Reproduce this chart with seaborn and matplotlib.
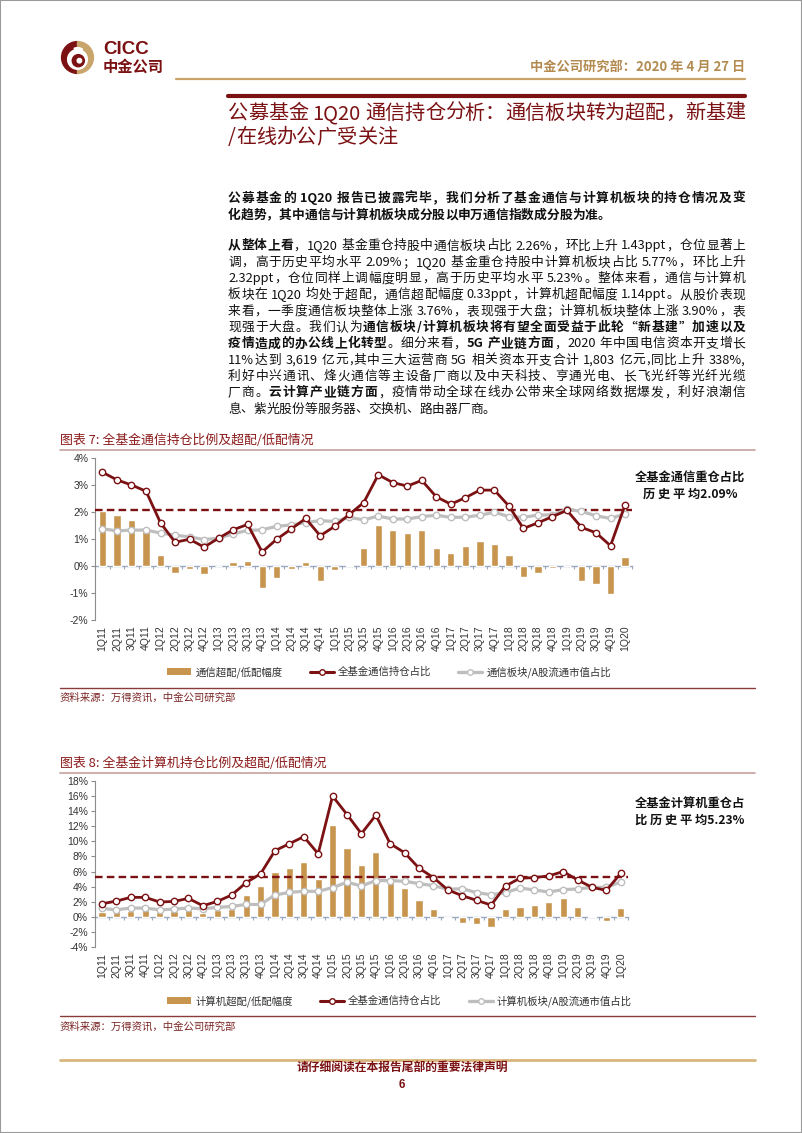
import re
import numpy as np
import pandas as pd
import matplotlib
matplotlib.use("Agg")
import matplotlib.pyplot as plt
import seaborn as sns
from matplotlib.font_manager import FontProperties
from matplotlib.patches import Wedge, Circle, Rectangle, Patch
from matplotlib.lines import Line2D

# ---------------- data ----------------
quarters = ["1Q11", "2Q11", "3Q11", "4Q11", "1Q12", "2Q12", "3Q12", "4Q12",
            "1Q13", "2Q13", "3Q13", "4Q13", "1Q14", "2Q14", "3Q14", "4Q14",
            "1Q15", "2Q15", "3Q15", "4Q15", "1Q16", "2Q16", "3Q16", "4Q16",
            "1Q17", "2Q17", "3Q17", "4Q17", "1Q18", "2Q18", "3Q18", "4Q18",
            "1Q19", "2Q19", "3Q19", "4Q19", "1Q20"]

telecom_gap = [2.04, 1.89, 1.69, 1.38, 0.40, -0.26, -0.10, -0.31,
               0.00, 0.16, 0.20, -0.81, -0.43, -0.10, 0.16, -0.55,
               -0.16, 0.02, 0.65, 1.52, 1.34, 1.22, 1.34, 0.67,
               0.47, 0.75, 0.92, 0.81, 0.40, -0.40, -0.26, -0.06,
               -0.01, -0.57, -0.65, -1.04, 0.34]
telecom_fund = [3.47, 3.19, 3.00, 2.77, 1.60, 0.88, 0.99, 0.70,
                1.03, 1.34, 1.54, 0.52, 0.99, 1.37, 1.76, 1.12,
                1.47, 1.91, 2.35, 3.38, 3.09, 2.96, 3.17, 2.56,
                2.29, 2.53, 2.81, 2.81, 2.22, 1.39, 1.60, 1.83,
                2.06, 1.43, 1.23, 0.75, 2.26]
telecom_mkt = [1.38, 1.30, 1.33, 1.33, 1.22, 1.14, 1.08, 0.98,
               1.03, 1.19, 1.32, 1.34, 1.47, 1.52, 1.61, 1.68,
               1.65, 1.80, 1.71, 1.85, 1.74, 1.74, 1.83, 1.88,
               1.80, 1.81, 1.88, 1.99, 1.83, 1.80, 1.89, 1.89,
               2.10, 2.02, 1.86, 1.76, 1.93]
telecom_avg = 2.09

computer_gap = [0.65, 0.75, 0.80, 0.85, 0.70, 0.80, 0.90, 0.45,
                0.90, 1.10, 2.90, 4.10, 5.90, 6.50, 7.20, 5.00,
                12.20, 9.07, 6.84, 8.58, 4.70, 3.78, 2.18, 1.10,
                -0.15, -0.80, -0.95, -1.40, 1.00, 1.35, 1.60, 1.95,
                2.45, 1.25, 0.07, -0.55, 1.15]
computer_fund = [1.73, 2.09, 2.58, 2.58, 1.96, 2.04, 2.44, 1.47,
                 2.04, 2.89, 4.53, 5.69, 8.76, 9.69, 10.62, 8.36,
                 16.00, 13.56, 11.02, 13.47, 9.69, 8.49, 6.44, 5.20,
                 3.56, 2.80, 2.18, 1.56, 4.09, 5.11, 5.20, 5.42,
                 6.00, 4.89, 3.91, 3.50, 5.77]
computer_mkt = [1.11, 0.93, 1.16, 1.16, 0.93, 1.02, 1.16, 1.07,
                1.24, 1.38, 1.64, 1.64, 2.89, 3.24, 3.38, 3.38,
                3.87, 4.58, 4.09, 4.80, 4.80, 4.71, 4.40, 4.13,
                3.64, 3.73, 3.20, 2.93, 3.20, 3.82, 3.56, 3.29,
                3.60, 3.69, 3.91, 3.91, 4.62]
computer_avg = 5.23

chart1_yticks = [-2, -1, 0, 1, 2, 3, 4]
chart2_yticks = [-4, -2, 0, 2, 4, 6, 8, 10, 12, 14, 16, 18]

legend1 = ["通信超配/低配幅度", "全基金通信持仓占比", "通信板块/A股流通市值占比"]
legend2 = ["计算机超配/低配幅度", "全基金通信持仓占比", "计算机板块/A股流通市值占比"]

# ---------------- style ----------------
sns.set_theme(style="white")
plt.rcParams["font.family"] = ["Liberation Sans", "Noto Sans CJK SC", "DejaVu Sans"]
plt.rcParams["axes.unicode_minus"] = False
CJK = ["Noto Sans CJK SC", "DejaVu Sans"]

RED = "#7B1113"
BAR = "#C8954F"
GRAY = "#BEBEBE"
GOLD = "#C9A46B"
ZC = "#9AA8BE"

W, H = 802, 1133
fig = plt.figure(figsize=(W / 100, H / 100), dpi=100)
renderer = fig.canvas.get_renderer()


def fx(x):
    return x / W


def fy(y):
    return 1 - y / H


def add_ax(x0, y0, x1, y1):
    return fig.add_axes([x0 / W, 1 - y1 / H, (x1 - x0) / W, (y1 - y0) / H])


def hline(y, x0, x1, color, lw):
    fig.add_artist(Line2D([fx(x0), fx(x1)], [fy(y), fy(y)], color=color, lw=lw,
                          transform=fig.transFigure))


def text(x, y, s, **kw):
    kw.setdefault("family", CJK)
    kw.setdefault("va", "center")
    fig.text(fx(x), fy(y), s, **kw)


# page border
fig.add_artist(Rectangle((0, 0), 1, 1, transform=fig.transFigure, fill=False,
                         edgecolor="#9a9a9a", lw=1.5))

# ---------------- header ----------------
lax = add_ax(60, 40, 95, 75)
lax.set_xlim(-1.1, 1.1)
lax.set_ylim(-1.1, 1.1)
lax.set_aspect("equal")
lax.axis("off")
lax.add_patch(Wedge((0, 0), 1, 90, 270, color=RED))
lax.add_patch(Wedge((0, 0), 1, -90, 90, color=GOLD))
lax.add_patch(Circle((0.0, -0.12), 0.62, color="white"))
lax.add_patch(Wedge((0, 0), 0.62, 60, 110, color="white"))
lax.add_patch(Circle((0.05, -0.2), 0.38, color=RED))
lax.add_patch(Circle((0.12, -0.2), 0.14, color="white"))

text(103, 50, "CICC", family=["Liberation Sans"], fontsize=13.5, fontweight="bold", color=RED)
text(103, 67, "中金公司", fontsize=11, fontweight="bold", color=RED)
text(745, 67, "中金公司研究部：2020 年 4 月 27 日", ha="right", fontsize=9.5,
     fontweight="bold", color="#B38B50")
hline(79, 176, 745, GOLD, 1.6)
hline(96, 228, 745, RED, 3.0)

# ---------------- justified text ----------------
_cache = {}


def adv(s, fp):
    key = (s, fp.get_weight(), fp.get_size())
    if key not in _cache:
        w1 = renderer.get_text_width_height_descent("|" + s + "|", fp, ismath=False)[0]
        w0 = renderer.get_text_width_height_descent("||", fp, ismath=False)[0]
        _cache[key] = w1 - w0
    return _cache[key]


def draw_line(segments, x0, ybase, width, justify, size, color="#111111"):
    toks = []
    for s, bold in segments:
        fp = FontProperties(family=CJK, size=size, weight="bold" if bold else "normal")
        for m in re.finditer(r"[A-Za-z0-9.,%/\-]+|.", s):
            t = m.group(0)
            toks.append((t, fp, adv(t, fp)))
    total = sum(t[2] for t in toks)
    gap = (width - total) / (len(toks) - 1) if (justify and len(toks) > 1) else 0.0
    x = x0
    for t, fp, w in toks:
        if t.strip():
            fig.text(fx(x), fy(ybase), t, fontproperties=fp, va="baseline", ha="left",
                     color=color)
        x += w + gap


# title
draw_line([("公募基金 1Q20 通信持仓分析：通信板块转为超配，新基建", False)], 228, 119, 517,
          True, 14.5, color=RED)
draw_line([("/在线办公广受关注", False)], 228, 143, 517, False, 14.5, color=RED)

para1 = [
    [("公募基金的 1Q20 报告已披露完毕，我们分析了基金通信与计算机板块的持仓情况及变", True)],
    [("化趋势，其中通信与计算机板块成分股以申万通信指数成分股为准。", True)],
]
para2 = [
    [("从整体上看", True), ("，1Q20 基金重仓持股中通信板块占比 2.26%，环比上升 1.43ppt，仓位显著上", False)],
    [("调，高于历史平均水平 2.09%；1Q20 基金重仓持股中计算机板块占比 5.77%，环比上升", False)],
    [("2.32ppt，仓位同样上调幅度明显，高于历史平均水平 5.23%。整体来看，通信与计算机", False)],
    [("板块在 1Q20 均处于超配，通信超配幅度 0.33ppt，计算机超配幅度 1.14ppt。从股价表现", False)],
    [("来看，一季度通信板块整体上涨 3.76%，表现强于大盘；计算机板块整体上涨 3.90%，表", False)],
    [("现强于大盘。我们认为", False), ("通信板块/计算机板块将有望全面受益于此轮“新基建”加速以及", True)],
    [("疫情造成的办公线上化转型", True), ("。细分来看，", False), ("5G 产业链方面", True),
     ("，2020 年中国电信资本开支增长", False)],
    [("11%达到 3,619 亿元,其中三大运营商 5G 相关资本开支合计 1,803 亿元,同比上升 338%,", False)],
    [("利好中兴通讯、烽火通信等主设备厂商以及中天科技、亨通光电、长飞光纤等光纤光缆", False)],
    [("厂商。", False), ("云计算产业链方面", True), ("，疫情带动全球在线办公带来全球网络数据爆发，利好浪潮信", False)],
    [("息、紫光股份等服务器、交换机、路由器厂商。", False)],
]
BODY = 9.2
for i, line in enumerate(para1):
    draw_line(line, 228, 202 + i * 16.5, 517, i < len(para1) - 1, BODY)
for i, line in enumerate(para2):
    draw_line(line, 228, 249.5 + i * 16.3, 517, i < len(para2) - 1, BODY)


# ---------------- charts ----------------
def chart(ax, gap, fund, mkt, avg, yticks, labels, legend_y):
    n = len(quarters)
    df = pd.DataFrame({"q": quarters, "gap": gap, "fund": fund, "mkt": mkt,
                       "i": np.arange(n)})
    sns.barplot(data=df, x="q", y="gap", color=BAR, saturation=1, width=0.5,
                errorbar=None, ax=ax, zorder=2)
    ax.axhline(avg, color=RED, lw=1.7, ls=(0, (3.2, 1.8)), zorder=3)
    sns.lineplot(data=df, x="i", y="mkt", color=GRAY, linewidth=2.3, marker="o",
                 markersize=4.6, markerfacecolor="white", markeredgecolor=GRAY,
                 markeredgewidth=1.0, ax=ax, zorder=4)
    sns.lineplot(data=df, x="i", y="fund", color=RED, linewidth=2.0, marker="o",
                 markersize=4.6, markerfacecolor="white", markeredgecolor=RED,
                 markeredgewidth=1.0, ax=ax, zorder=5)
    ax.set_xlim(-0.5, n - 0.5)
    ax.set_ylim(yticks[0], yticks[-1])
    ax.set_yticks(yticks)
    ax.set_yticklabels([f"{v}%" for v in yticks])
    ax.set_xticks(np.arange(n))
    ax.set_xticklabels(quarters, rotation=90)
    ax.set_xlabel("")
    ax.set_ylabel("")
    for s in ("top", "right", "bottom"):
        ax.spines[s].set_visible(False)
    ax.spines["left"].set_color("#8c8c8c")
    ax.spines["left"].set_linewidth(0.8)
    ax.tick_params(axis="y", left=True, length=3, width=0.8, color="#8c8c8c",
                   labelsize=7.5, labelcolor="#333333", pad=2)
    ax.tick_params(axis="x", bottom=True, length=0, labelsize=7.5,
                   labelcolor="#333333", pad=4)
    ax.set_facecolor("none")
    frac0 = (0 - yticks[0]) / (yticks[-1] - yticks[0])
    sec = ax.secondary_xaxis(frac0)
    sec.set_xticks(np.arange(n + 1) - 0.5)
    sec.set_xticklabels([])
    sec.tick_params(axis="x", length=2.5, width=0.8, color=ZC, direction="out")
    for s in sec.spines.values():
        s.set_color(ZC)
        s.set_linewidth(1.0)

    handles = [Patch(facecolor=BAR, edgecolor="none"),
               Line2D([], [], color=RED, lw=2.2, marker="o", ms=4,
                      mfc="white", mec=RED, mew=1),
               Line2D([], [], color=GRAY, lw=2.4, marker="o", ms=4,
                      mfc="white", mec=GRAY, mew=1)]
    fig.legend(handles, labels, loc="center left",
               bbox_to_anchor=(fx(158), fy(legend_y)), ncol=3, frameon=False,
               prop=FontProperties(family=CJK, size=7.5), handlelength=2.3,
               handleheight=0.6, handletextpad=0.4, columnspacing=2.6,
               labelcolor="#333333")


# chart 1
text(60, 440, "图表 7: 全基金通信持仓比例及超配/低配情况", fontsize=9.3, color="#8B1A1A")
hline(450, 60, 755, "#C9A9A6", 1.3)
ax1 = add_ax(95.2, 458, 632.3, 620)
chart(ax1, telecom_gap, telecom_fund, telecom_mkt, telecom_avg, chart1_yticks,
      legend1, 672)
text(690, 478, "全基金通信重仓占比", ha="center", fontsize=8.8, fontweight="bold",
     color="#111111")
text(690, 494, "历 史 平 均2.09%", ha="center", fontsize=8.8, fontweight="bold",
     color="#111111")
hline(688, 60, 755, "#8B3A3A", 1.0)
text(60, 698, "资料来源：万得资讯，中金公司研究部", fontsize=7.5, color="#7B2525")

# chart 2
text(60, 763, "图表 8: 全基金计算机持仓比例及超配/低配情况", fontsize=9.3, color="#8B1A1A")
hline(773, 60, 755, "#C9A9A6", 1.3)
ax2 = add_ax(94.8, 781, 628, 947)
chart(ax2, computer_gap, computer_fund, computer_mkt, computer_avg, chart2_yticks,
      legend2, 1001)
text(690, 803, "全基金计算机重仓占", ha="center", fontsize=8.8, fontweight="bold",
     color="#111111")
text(690, 820, "比 历 史 平 均5.23%", ha="center", fontsize=8.8, fontweight="bold",
     color="#111111")
hline(1016, 60, 755, "#8B3A3A", 1.0)
text(60, 1027, "资料来源：万得资讯，中金公司研究部", fontsize=7.5, color="#7B2525")

# footer
hline(1060, 60, 755, "#D8B67C", 2.0)
text(402, 1068, "请仔细阅读在本报告尾部的重要法律声明", ha="center", fontsize=8.5,
     fontweight="bold", color="#7B1113")
text(402, 1085, "6", ha="center", fontsize=8.5, fontweight="bold", color="#7B1113",
     family=["Liberation Sans"])

fig.savefig("out.png", dpi=100)
